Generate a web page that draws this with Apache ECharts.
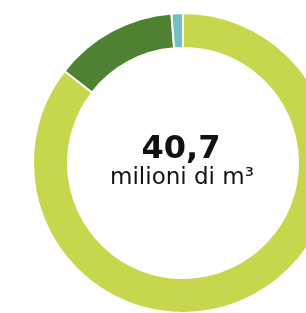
<!DOCTYPE html>
<html>
<head>
<meta charset="utf-8">
<script src="https://cdn.jsdelivr.net/npm/echarts@6/dist/echarts.min.js"></script>
<style>
  html, body { margin: 0; padding: 0; background: #fff; }
  #chart { width: 306px; height: 313px; }
</style>
</head>
<body>
<div id="chart"></div>
<script>
// share of the total volume, milioni di m³
const names = ['A', 'B', 'C']
const values = [34.8, 5.4, 0.5]
const colors = ['#c6d74e', '#4e8232', '#72bfc0']
const totalLabel = '40,7'
const unitLabel = 'milioni di m³'

const chart = echarts.init(document.getElementById('chart'))

chart.setOption({
  animation: false,
  series: [
    {
      type: 'pie',
      center: [183, 163],
      radius: [115, 150],
      startAngle: 90,
      clockwise: true,
      label: { show: false },
      labelLine: { show: false },
      itemStyle: { borderColor: '#fff', borderWidth: 2 },
      data: names.map((n, i) => ({ name: n, value: values[i], itemStyle: { color: colors[i] } })),
    },
  ],
  graphic: [
    {
      type: 'text',
      x: 181, y: 150,
      style: {
        text: totalLabel,
        font: 'bold 32px "DejaVu Sans", sans-serif',
        fill: '#111',
        align: 'center',
        verticalAlign: 'middle',
      },
    },
    {
      type: 'text',
      x: 182, y: 178,
      style: {
        text: unitLabel,
        font: '23px "DejaVu Sans", sans-serif',
        fill: '#111',
        align: 'center',
        verticalAlign: 'middle',
      },
    },
  ],
})
</script>
</body>
</html>
